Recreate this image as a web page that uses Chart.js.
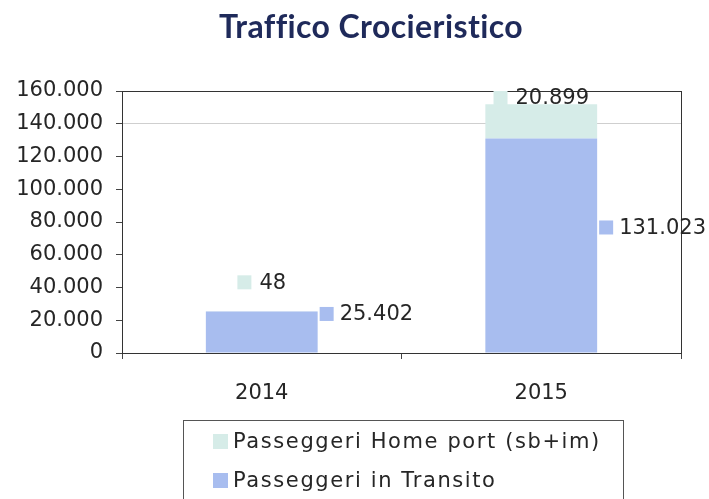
<!DOCTYPE html>
<html>
<head>
<meta charset="utf-8">
<script src="https://cdn.jsdelivr.net/npm/chart.js@4.4.1/dist/chart.umd.min.js"></script>
<style>
  html, body { margin: 0; padding: 0; background: #fff; }
</style>
</head>
<body>
<canvas id="chart" width="709" height="499"></canvas>
<script>
// Data
const years = ['2014', '2015'];
const transito = [25402, 131023];
const homePort = [48, 20899];
const seriesNames = ['Passeggeri in Transito', 'Passeggeri Home port (sb+im)'];
const yMax = 160000;
const yStep = 20000;

const transitColor = '#a8bdef';
const homeColor = '#d6ece8';
const textColor = '#262626';
const labelFont = '21px "DejaVu Sans"';

// 160000 -> "160.000"
function fmt(n) {
  return String(n).replace(/\B(?=(\d{3})+(?!\d))/g, '.');
}

// Title, plot border, data labels and the boxed legend
const extras = {
  id: 'extras',
  beforeDatasetsDraw(chart) {
    const ctx = chart.ctx;
    const a = chart.chartArea;
    ctx.save();
    ctx.strokeStyle = '#333';
    ctx.lineWidth = 1;
    ctx.strokeRect(Math.round(a.left) + 0.5, Math.round(a.top) + 0.5,
      Math.round(a.right - a.left), Math.round(a.bottom - a.top));
    ctx.restore();
  },
  afterDatasetsDraw(chart) {
    const ctx = chart.ctx;
    const a = chart.chartArea;
    ctx.save();
    ctx.font = labelFont;
    ctx.textBaseline = 'middle';
    ctx.textAlign = 'left';

    // transit labels: right of the bar
    chart.getDatasetMeta(0).data.forEach((bar, i) => {
      const y = (bar.y + bar.base) / 2 - 18;
      const x = bar.x + bar.width / 2 + 2;
      ctx.fillStyle = transitColor;
      ctx.fillRect(x, y - 7, 14, 14);
      ctx.fillStyle = textColor;
      ctx.fillText(fmt(transito[i]), x + 20, y + 1);
    });

    // home port labels: above the stack, kept inside the plot
    chart.getDatasetMeta(1).data.forEach((bar, i) => {
      const txt = fmt(homePort[i]);
      const w = 14 + 8 + ctx.measureText(txt).width;
      const y = Math.max(bar.y - 29, a.top + 7);
      const x = Math.max(bar.x - w / 2, bar.x - bar.width / 2);
      ctx.fillStyle = homeColor;
      ctx.fillRect(x, y - 7, 14, 14);
      ctx.fillStyle = textColor;
      ctx.fillText(txt, x + 22, y + 1);
    });
    ctx.restore();
  },
  afterDraw(chart) {
    const ctx = chart.ctx;
    ctx.save();
    // title
    ctx.font = 'bold 32px Lato';
    ctx.letterSpacing = '0.4px';
    ctx.fillStyle = '#1f2a5a';
    ctx.textAlign = 'center';
    ctx.textBaseline = 'alphabetic';
    ctx.fillText('Traffico Crocieristico', 371, 38);

    // legend box (runs off the bottom like the reference)
    ctx.letterSpacing = '1.6px';
    ctx.strokeStyle = '#555';
    ctx.lineWidth = 1;
    ctx.strokeRect(183.5, 420.5, 440, 100);
    ctx.font = labelFont;
    ctx.textAlign = 'left';
    ctx.textBaseline = 'middle';
    const items = [
      { name: seriesNames[1], color: homeColor },
      { name: seriesNames[0], color: transitColor }
    ];
    items.forEach((it, k) => {
      const y = 442 + k * 39;
      ctx.fillStyle = it.color;
      ctx.fillRect(213, y - 8, 15, 15);
      ctx.fillStyle = textColor;
      ctx.fillText(it.name, 233, y + 1);
    });
    ctx.restore();
  }
};

const ctx = document.getElementById('chart').getContext('2d');
const chart = new Chart(ctx, {
  type: 'bar',
  data: {
    labels: years,
    datasets: [
      {
        label: seriesNames[0],
        data: transito,
        backgroundColor: transitColor,
        barPercentage: 0.4,
        categoryPercentage: 1.0
      },
      {
        label: seriesNames[1],
        data: homePort,
        backgroundColor: homeColor,
        barPercentage: 0.4,
        categoryPercentage: 1.0
      }
    ]
  },
  options: {
    responsive: false,
    animation: false,
    layout: { padding: { top: 91, right: 28, bottom: 86, left: 0 } },
    plugins: {
      legend: { display: false },
      title: { display: false },
      tooltip: { enabled: false }
    },
    scales: {
      x: {
        stacked: true,
        offset: true,
        grid: { offset: true, drawOnChartArea: false, tickLength: 6, color: '#444', tickColor: '#444' },
        border: { color: '#333', width: 1 },
        ticks: { font: { family: 'DejaVu Sans', size: 21 }, color: textColor, padding: 22 },
        afterFit(s) { s.height = 60; }
      },
      y: {
        stacked: true,
        min: 0,
        max: yMax,
        ticks: {
          stepSize: yStep,
          callback: (v) => fmt(v),
          font: { family: 'DejaVu Sans', size: 21 },
          color: textColor,
          padding: 13
        },
        grid: {
          color: (c) => (c.tick && c.tick.value === 140000 ? '#cfcfcf' : 'rgba(0,0,0,0)'),
          tickColor: '#444',
          tickLength: 6
        },
        border: { color: '#333', width: 1 },
        afterFit(s) { s.width = 122; }
      }
    }
  },
  plugins: [extras]
});
</script>
</body>
</html>
